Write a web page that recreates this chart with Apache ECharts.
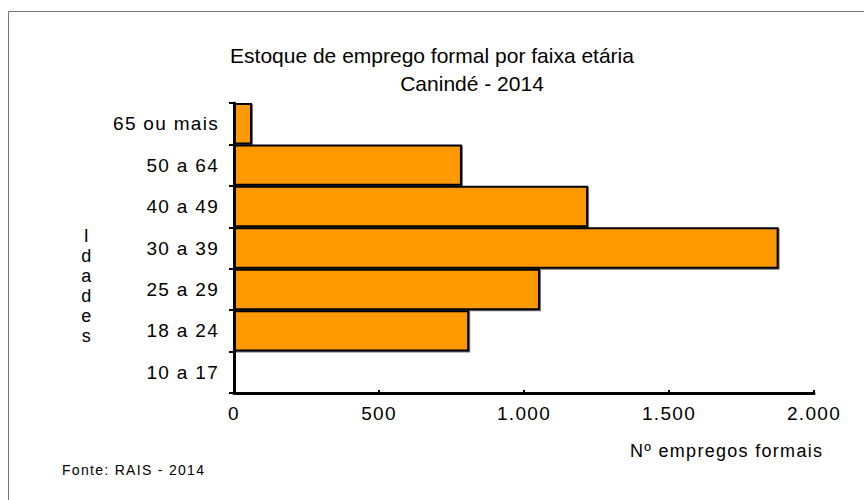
<!DOCTYPE html>
<html>
<head>
<meta charset="utf-8">
<script src="https://cdn.jsdelivr.net/npm/echarts@6/dist/echarts.min.js"></script>
<style>
  html, body { margin: 0; padding: 0; background: #fff; }
  #chart { width: 864px; height: 500px; }
  /* o texto original do Excel é espaçado */
  #chart text { letter-spacing: 1.3px; }
  #chart text[style*="21px"], #chart text[font-size="21"], #chart text[font-size="21px"] { letter-spacing: 0; }
</style>
</head>
<body>
<div id="chart"></div>
<script>
var faixas = ['10 a 17', '18 a 24', '25 a 29', '30 a 39', '40 a 49', '50 a 64', '65 ou mais'];
var empregos = [8, 811, 1055, 1878, 1221, 786, 62];
var xTicks = [0, 500, 1000, 1500, 2000];

var dom = document.getElementById('chart');
var myChart = echarts.init(dom, null, { renderer: 'svg' });
var fonte = 'Liberation Sans, Arial, sans-serif';

function fmtMilhar(v) {
    // separador de milhar com ponto
    return String(v).replace(/\B(?=(\d{3})+(?!\d))/g, '.');
}

var option = {
    animation: false,
    backgroundColor: '#fff',
    textStyle: { fontFamily: fonte },
    grid: { left: 234, right: 50, top: 103, bottom: 107 },
    xAxis: {
        type: 'value',
        min: xTicks[0],
        max: xTicks[xTicks.length - 1],
        interval: 500,
        axisLine: { show: true, lineStyle: { color: '#000', width: 3 } },
        axisTick: { show: true, inside: true, length: 3, lineStyle: { color: '#000', width: 2 } },
        splitLine: { show: false },
        axisLabel: {
            color: '#000', fontSize: 19, margin: 11, fontFamily: fonte,
            formatter: fmtMilhar
        }
    },
    yAxis: {
        type: 'category',
        data: faixas,
        axisLine: { show: true, lineStyle: { color: '#000', width: 3 } },
        axisTick: { show: true, length: 5, alignWithLabel: false, lineStyle: { color: '#000', width: 2 } },
        axisLabel: { color: '#000', fontSize: 19, margin: 15, fontFamily: fonte }
    },
    series: [{
        type: 'bar',
        data: empregos,
        barCategoryGap: 0,
        itemStyle: {
            color: '#FF9900',
            borderColor: '#000',
            borderWidth: 2,
            shadowColor: 'rgba(0,0,0,0.55)',
            shadowOffsetX: 1,
            shadowOffsetY: 1,
            shadowBlur: 0
        }
    }],
    graphic: [
        {
            type: 'rect',
            shape: { x: 8.5, y: 11.5, width: 1000, height: 600 },
            style: { fill: 'none', stroke: '#777', lineWidth: 1 },
            silent: true
        },
        {
            type: 'text', x: 432, y: 45,
            style: { text: 'Estoque de emprego formal por faixa etária', fill: '#000', font: '21px ' + fonte, textAlign: 'center' }
        },
        {
            type: 'text', x: 472, y: 73,
            style: { text: 'Canindé - 2014', fill: '#000', font: '21px ' + fonte, textAlign: 'center' }
        },
        {
            type: 'text', x: 87, y: 226,
            style: { text: 'I\nd\na\nd\ne\ns', fill: '#000', font: '18px ' + fonte, textAlign: 'center', lineHeight: 20 }
        },
        {
            type: 'text', x: 630, y: 442,
            style: { text: 'Nº empregos formais', fill: '#000', font: '18px ' + fonte }
        },
        {
            type: 'text', x: 62, y: 463,
            style: { text: 'Fonte: RAIS - 2014', fill: '#000', font: '14px ' + fonte }
        }
    ]
};

if (option && typeof option === 'object') {
    myChart.setOption(option, true);
}
</script>
</body>
</html>
